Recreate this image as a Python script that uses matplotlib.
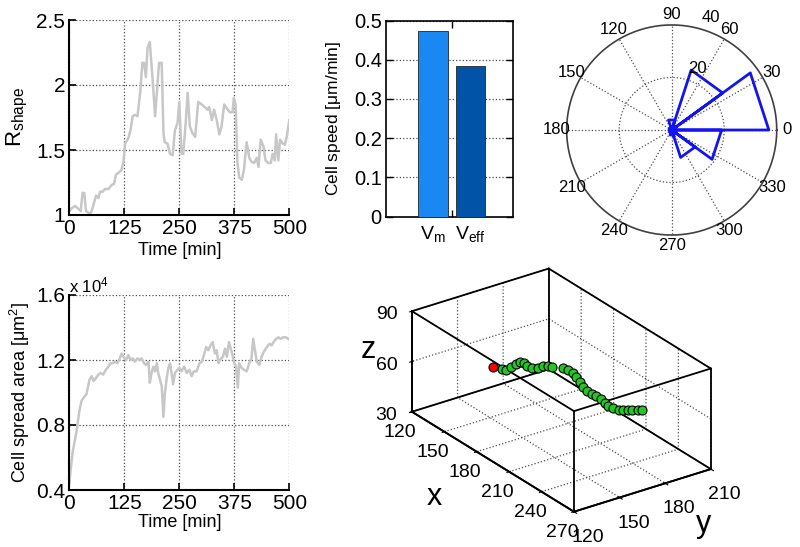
import numpy as np
import matplotlib.pyplot as plt
from matplotlib.ticker import FuncFormatter

plt.rcParams['font.family'] = ['Liberation Sans', 'DejaVu Sans']
plt.rcParams['mathtext.fontset'] = 'custom'
plt.rcParams['mathtext.rm'] = 'Liberation Sans'
plt.rcParams['mathtext.it'] = 'Liberation Sans:italic'
plt.rcParams['grid.linestyle'] = ':'
plt.rcParams['grid.color'] = '0.3'
plt.rcParams['grid.linewidth'] = 0.9
plt.rcParams['xtick.direction'] = 'in'
plt.rcParams['ytick.direction'] = 'in'

# cell shape ratio over time
t_shape = [0, 5, 13, 20, 26, 30, 34, 38, 47, 51, 55, 61, 66, 70, 76, 81, 89, 96, 102, 106,
           114, 119, 123, 127, 134, 139, 144, 149, 155, 161, 166, 170, 174, 178, 183, 189, 195, 199, 204, 210,
           214, 217, 223, 229, 235, 240, 246, 250, 255, 259, 265, 269, 274, 280, 286, 293, 301, 308, 314, 318,
           324, 329, 335, 341, 346, 352, 358, 365, 371, 374, 378, 382, 386, 392, 397, 403, 409, 414, 420, 426,
           430, 435, 441, 446, 452, 458, 462, 467, 470, 475, 479, 485, 490, 494, 500]
r_shape = [1.03, 1.05, 1.07, 1.05, 1.03, 1.17, 1.17, 1.03, 1.01, 1.03, 1.08, 1.15, 1.13, 1.18, 1.18, 1.2, 1.2, 1.23, 1.24, 1.31,
           1.33, 1.35, 1.41, 1.55, 1.59, 1.65, 1.76, 1.77, 1.76, 1.94, 2.17, 2.17, 2.06, 2.29, 2.33, 2.06, 1.76, 1.94, 2.17, 2.17,
           1.63, 1.56, 1.55, 1.47, 1.46, 1.65, 1.71, 1.87, 1.47, 1.47, 1.73, 1.94, 1.68, 1.63, 1.6, 1.87, 1.85, 1.83, 1.81, 1.83,
           1.73, 1.81, 1.73, 1.62, 1.68, 1.85, 1.82, 1.79, 1.79, 1.9, 1.85, 1.41, 1.29, 1.27, 1.35, 1.56, 1.44, 1.41, 1.40, 1.44,
           1.37, 1.58, 1.53, 1.42, 1.40, 1.40, 1.47, 1.42, 1.62, 1.42, 1.58, 1.55, 1.54, 1.60, 1.73]

# cell spread area over time (um^2)
t_area = [0, 3, 8, 13, 17, 23, 28, 33, 39, 46, 51, 55, 61, 66, 71, 77, 83, 89, 94, 99,
          104, 109, 115, 119, 123, 129, 134, 139, 144, 149, 155, 159, 164, 170, 174, 180, 183, 187, 191, 195,
          199, 202, 206, 210, 214, 217, 221, 225, 229, 233, 236, 240, 246, 250, 255, 261, 267, 273, 278, 283,
          289, 296, 301, 306, 311, 316, 321, 326, 331, 335, 339, 342, 349, 354, 358, 363, 367, 371, 375, 379,
          383, 386, 392, 397, 403, 409, 414, 418, 422, 426, 432, 437, 442, 449, 455, 460, 464, 470, 475, 480,
          486, 492, 498, 500]
area = [4400, 5200, 6400, 7100, 7700, 8900, 9500, 9700, 9900, 10800, 11000, 10700, 10900, 11100, 11200, 11100, 11400, 11600, 11800, 11800,
        11900, 11800, 12100, 12400, 12200, 12000, 12300, 12000, 12100, 11900, 12100, 12000, 12100, 11800, 11700, 11900, 10600, 11200, 11600, 11300,
        11800, 11200, 10800, 10400, 8500, 9900, 10800, 11500, 11800, 11100, 10500, 11200, 11400, 11500, 11300, 11600, 11200, 11400, 11000, 11300,
        11300, 11800, 11900, 12300, 12800, 12600, 12900, 13100, 12400, 12600, 11800, 12000, 12200, 12700, 12200, 13100, 12700, 12300, 11800, 11600,
        10300, 11800, 11500, 11400, 11300, 11800, 12100, 13300, 12600, 11900, 11700, 12200, 12500, 12800, 13000, 12900, 13100, 13300, 13400, 13300,
        13400, 13400, 13300, 13300]

# cell speed
speed_labels = ['V$_\\mathrm{m}$', 'V$_\\mathrm{eff}$']
speed = [0.473, 0.384]
speed_colors = ['#1a88f2', '#0053a6']

# migration direction histogram (10 bins of 36 deg)
rose_counts = [37, 24, 4, 1, 1, 1, 1, 2, 11, 19]

# 3D track
track_x = [142, 147, 149, 150, 150, 151, 153, 155, 157, 159, 160, 161.5, 164, 167, 170, 173,
           178, 184, 190, 195, 200, 203, 208, 213, 217.5, 220.5, 224, 226, 227, 228, 230, 232]
track_y = [158, 160, 161, 164, 167, 169, 170, 171, 173, 175, 177.5, 180, 181, 186, 187, 188,
           187, 185, 183, 181.6, 181.4, 182, 182, 181, 180, 181, 182, 183.5, 186, 188, 190.5, 192]
track_z = [55, 55, 55, 56, 57, 58, 58, 57, 56, 56, 57, 57, 57, 56, 56, 55,
           55, 55, 55, 55, 55, 55, 55, 55, 55, 55, 55, 55, 55, 55, 55, 55]

W, H = 800, 547
fig = plt.figure(figsize=(W / 100, H / 100), dpi=100)


def px_axes(left, top, right, bottom, **kw):
    return fig.add_axes([left / W, 1 - bottom / H, (right - left) / W, (bottom - top) / H], **kw)


def px_text(x, y, s, **kw):
    fig.text(x / W, 1 - y / H, s, **kw)


def style_2d(ax):
    ax.spines['top'].set_visible(False)
    ax.spines['right'].set_visible(False)
    for s in ['left', 'bottom']:
        ax.spines[s].set_linewidth(1.5)
    ax.tick_params(labelsize=15, length=5, width=1.2, pad=3)
    ax.grid(True)
    ax.set_xlim(0, 500)
    ax.set_xticks([0, 125, 250, 375, 500])


gfmt = FuncFormatter(lambda v, p: '%g' % v)

# --- R_shape
ax1 = px_axes(69.3, 20, 289.3, 215)
ax1.plot(t_shape, r_shape, color='0.78', lw=1.8)
style_2d(ax1)
ax1.set_ylim(1, 2.5)
ax1.set_yticks([1, 1.5, 2, 2.5])
ax1.yaxis.set_major_formatter(gfmt)
ax1.set_ylabel('R$_\\mathrm{shape}$', fontsize=16)
ax1.yaxis.set_label_coords(-0.18, 0.5)
ax1.set_xlabel('Time [min]', fontsize=13)
ax1.xaxis.set_label_coords(0.5, -0.137)

# --- spread area
ax4 = px_axes(69.3, 295, 289.3, 490)
ax4.plot(t_area, area, color='0.78', lw=1.8)
style_2d(ax4)
ax4.set_ylim(4000, 16000)
ax4.set_yticks([4000, 8000, 12000, 16000])
ax4.yaxis.set_major_formatter(FuncFormatter(lambda v, p: '%g' % (v / 1e4)))
ax4.text(0.0, 1.0, 'x 10$^4$', transform=ax4.transAxes, fontsize=12, va='bottom', ha='left')
ax4.set_ylabel('Cell spread area [$\\mathrm{\\mu m^2}$]', fontsize=13)
ax4.yaxis.set_label_coords(-0.17, 0.5)
ax4.set_xlabel('Time [min]', fontsize=13)
ax4.xaxis.set_label_coords(0.5, -0.125)

# --- speed bars
ax2 = px_axes(386, 20.5, 513.3, 216.7)
xb = np.arange(1, len(speed) + 1)
ax2.bar(xb, speed, width=0.79, color=speed_colors, edgecolor='0.15', lw=0.6, zorder=3)
ax2.set_xlim(-0.23, 3.13)
ax2.set_ylim(0, 0.5)
ax2.set_yticks(np.arange(0, 0.51, 0.1))
ax2.yaxis.set_major_formatter(gfmt)
ax2.set_xticks(xb)
ax2.set_xticklabels(speed_labels, fontsize=14)
ax2.set_xticks([1.5], minor=True)
ax2.tick_params(axis='x', which='major', length=0, pad=5)
ax2.tick_params(axis='x', which='minor', length=5, width=1, top=True)
ax2.tick_params(axis='y', labelsize=14.5, length=5, width=1, right=True, pad=3)
ax2.grid(True, axis='y')
for s in ax2.spines.values():
    s.set_linewidth(1.2)
ax2.set_ylabel('Cell speed [$\\mathrm{\\mu}$m/min]', fontsize=12.5)
ax2.yaxis.set_label_coords(-0.34, 0.5)

# --- rose plot
ax3 = px_axes(546.7, 5, 796.7, 255)
rmax = 40
ax3.set_xlim(-47.6, 47.6)
ax3.set_ylim(-47.6, 47.6)
ax3.axis('off')
th = np.linspace(0, 2 * np.pi, 361)
ax3.plot(rmax * np.cos(th), rmax * np.sin(th), color='0.25', lw=1.2)
ax3.plot(rmax / 2 * np.cos(th), rmax / 2 * np.sin(th), color='0.3', lw=0.9, ls=':')
for a in range(0, 360, 30):
    ar = np.deg2rad(a)
    ax3.plot([0, rmax * np.cos(ar)], [0, rmax * np.sin(ar)], color='0.3', lw=0.9, ls=':')
    ax3.text(1.1 * rmax * np.cos(ar), 1.1 * rmax * np.sin(ar), str(a), fontsize=12,
             ha='center', va='center')
ax3.text(25.5 * np.cos(np.deg2rad(67)), 25.5 * np.sin(np.deg2rad(67)), '20', fontsize=12,
         ha='center', va='center')
ax3.text(45.5 * np.cos(np.deg2rad(71)), 45.5 * np.sin(np.deg2rad(71)), '40', fontsize=12,
         ha='center', va='center')
nb = len(rose_counts)
rx, ry = [], []
for k, c in enumerate(rose_counts):
    a1 = 2 * np.pi * k / nb
    a2 = 2 * np.pi * (k + 1) / nb
    rx += [0, c * np.cos(a1), c * np.cos(a2), 0]
    ry += [0, c * np.sin(a1), c * np.sin(a2), 0]
ax3.plot(rx, ry, color='#1414f0', lw=2)

# --- 3D track
S = 360
cx, cy = 556.5, 395
ax5 = fig.add_axes([(cx - S / 2) / W, 1 - (cy + S / 2) / H, S / W, S / H],
                   projection='3d', proj_type='ortho')
ax5.set_facecolor('none')
ax5.set_xlim(120, 270)
ax5.set_ylim(120, 210)
ax5.set_zlim(30, 90)
ax5.set_box_aspect((150, 90, 60), zoom=0.93)
ax5.view_init(elev=26, azim=-35.4)
ax5.set_xticks(range(120, 271, 30))
ax5.set_yticks(range(120, 211, 30))
ax5.set_zticks([30, 60, 90])
for axis in [ax5.xaxis, ax5.yaxis, ax5.zaxis]:
    axis.set_pane_color((1, 1, 1, 0))
    axis.pane.set_edgecolor('none')
    axis.line.set_color('k')
    axis.line.set_linewidth(1.3)
ax5.zaxis.set_ticks_position('lower')
ax5.tick_params(labelsize=14)
xl, yl, zl = ax5.get_xlim(), ax5.get_ylim(), ax5.get_zlim()
for y0 in yl:
    for z0 in zl:
        ax5.plot(xl, [y0, y0], [z0, z0], color='k', lw=1.3)
for x0 in xl:
    for z0 in zl:
        ax5.plot([x0, x0], yl, [z0, z0], color='k', lw=1.3)
for x0 in xl:
    for y0 in yl:
        ax5.plot([x0, x0], [y0, y0], zl, color='k', lw=1.3)
ax5.plot(track_x[1:], track_y[1:], track_z[1:], ls='none', marker='o', ms=6.5,
         mfc='#22c822', mec='k', mew=0.8)
ax5.plot(track_x[:1], track_y[:1], track_z[:1], ls='none', marker='o', ms=6.5,
         mfc='red', mec='k', mew=0.8)
px_text(434, 505, 'x', fontsize=22, ha='center', va='baseline')
px_text(704, 532, 'y', fontsize=22, ha='center', va='baseline')
px_text(368, 358, 'z', fontsize=22, ha='center', va='baseline')

fig.savefig('out.png', dpi=100)
